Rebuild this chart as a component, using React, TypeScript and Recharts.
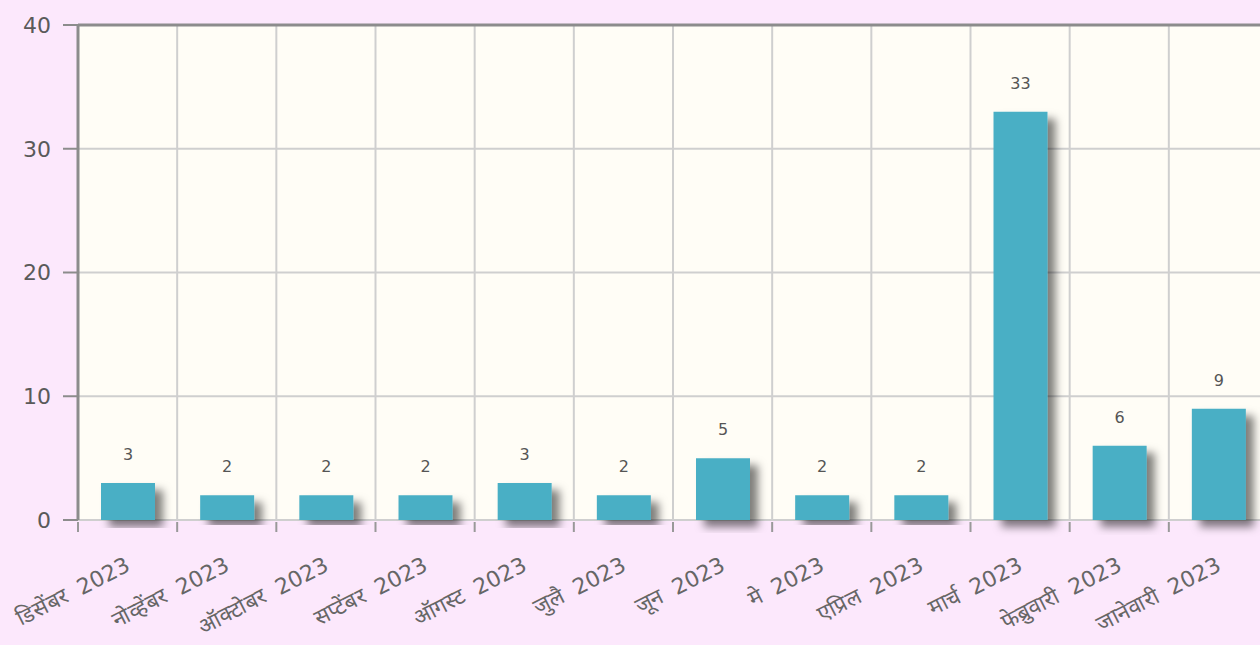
import { BarChart, Bar, XAxis, YAxis, CartesianGrid, LabelList, ReferenceLine } from 'recharts';

const months = [
  'डिसेंबर 2023', 'नोव्हेंबर 2023', 'ऑक्टोबर 2023', 'सप्टेंबर 2023', 'ऑगस्ट 2023', 'जुलै 2023',
  'जून 2023', 'मे 2023', 'एप्रिल 2023', 'मार्च 2023', 'फेब्रुवारी 2023', 'जानेवारी 2023',
];
const counts = [3, 2, 2, 2, 3, 2, 5, 2, 2, 33, 6, 9];
const yTicks = [0, 10, 20, 30, 40];

const data = months.map((name, i) => ({ name, value: counts[i] }));

const W = 1270;
const H = 645;
const M = { top: 25, right: 2, bottom: 0, left: 0 };
const Y_W = 78;
const BAND = (W - M.left - M.right - Y_W) / months.length;

function MonthTick({ x, y, payload }: any) {
  const tx = x + 4;
  const ty = y + 42;
  return (
    <g>
      <line x1={x - BAND / 2} x2={x - BAND / 2} y1={y - 6} y2={y + 4} stroke="#999" strokeWidth={2} />
      <text
        x={tx}
        y={ty}
        textAnchor="end"
        transform={`rotate(-27 ${tx} ${ty})`}
        fontSize={22}
        fill="#666"
        wordSpacing={6}
        fontFamily="'DejaVu Sans', sans-serif"
      >
        {payload.value}
      </text>
    </g>
  );
}

export default function App() {
  return (
    <div style={{ position: 'absolute', left: 0, top: 0, width: 1260, height: 645, overflow: 'hidden', background: '#fce8fc' }}>
      <BarChart width={W} height={H} data={data} margin={M} barSize={54}>
        <defs>
          <filter id="barShadow" x="-20%" y="-20%" width="160%" height="140%">
            <feDropShadow dx="8" dy="7" stdDeviation="4" floodColor="#000" floodOpacity="0.5" />
          </filter>
          <filter id="axisShadow" x="-5%" y="-200%" width="110%" height="800%">
            <feDropShadow dx="0" dy="5" stdDeviation="3" floodColor="#9a849a" floodOpacity="0.6" />
          </filter>
        </defs>
        <CartesianGrid
          fill="#fffdf6"
          stroke="#cfcfcf"
          strokeWidth={2}
          verticalCoordinatesGenerator={({ offset }: any) =>
            months.map((_, i) => offset.left + (i + 1) * (offset.width / months.length))
          }
        />
        <ReferenceLine y={40} stroke="#8c8c8c" strokeWidth={3} />
        <XAxis
          dataKey="name"
          interval={0}
          height={H - 520}
          axisLine={{ stroke: '#8c8c8c', strokeWidth: 3, filter: 'url(#axisShadow)' }}
          tickLine={false}
          tick={<MonthTick />}
        />
        <YAxis
          width={Y_W}
          domain={[0, 40]}
          ticks={yTicks}
          axisLine={{ stroke: '#8c8c8c', strokeWidth: 3 }}
          tickLine={{ stroke: '#8c8c8c', strokeWidth: 2 }}
          tickSize={15}
          tickMargin={12}
          tick={{ fontSize: 22, fill: '#5a5a5a', fontFamily: "'DejaVu Sans', sans-serif" }}
        />
        <Bar dataKey="value" fill="#4aafc5" isAnimationActive={false} filter="url(#barShadow)">
          <LabelList
            dataKey="value"
            position="top"
            offset={23}
            fontSize={16}
            fill="#555"
            fontFamily="'DejaVu Sans', sans-serif"
          />
        </Bar>
      </BarChart>
    </div>
  );
}
